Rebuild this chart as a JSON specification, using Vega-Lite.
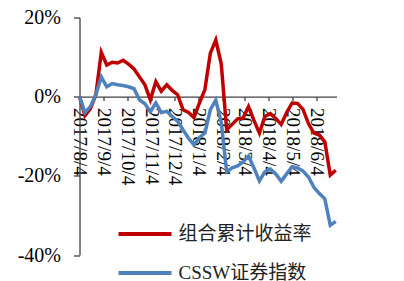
{
  "$schema": "https://vega.github.io/schema/vega-lite/v6.json",
  "width": 257,
  "height": 237.5,
  "autosize": {"type": "none"},
  "padding": {"left": 79.5, "top": 17.5, "right": 67.5, "bottom": 26},
  "background": "white",
  "config": {
    "view": {"stroke": null},
    "font": "Liberation Serif",
    "axis": {"grid": false, "domainColor": "#404040", "tickColor": "#404040", "domainWidth": 1.3, "tickWidth": 1.3, "labelColor": "#000000", "labelFont": "Liberation Serif", "labelFontSize": 19}
  },
  "data": {
    "values": [
      {"date": "2017-08-04", "s": "组合累计收益率", "v": 0},
      {"date": "2017-08-11", "s": "组合累计收益率", "v": -4.8},
      {"date": "2017-08-18", "s": "组合累计收益率", "v": -3.0},
      {"date": "2017-08-25", "s": "组合累计收益率", "v": 0.5},
      {"date": "2017-09-01", "s": "组合累计收益率", "v": 11.2},
      {"date": "2017-09-08", "s": "组合累计收益率", "v": 8.0},
      {"date": "2017-09-15", "s": "组合累计收益率", "v": 8.7},
      {"date": "2017-09-22", "s": "组合累计收益率", "v": 8.5},
      {"date": "2017-09-29", "s": "组合累计收益率", "v": 9.2},
      {"date": "2017-10-06", "s": "组合累计收益率", "v": 8.2},
      {"date": "2017-10-13", "s": "组合累计收益率", "v": 7.0},
      {"date": "2017-10-20", "s": "组合累计收益率", "v": 5.0},
      {"date": "2017-10-27", "s": "组合累计收益率", "v": 3.0},
      {"date": "2017-11-03", "s": "组合累计收益率", "v": -0.8},
      {"date": "2017-11-10", "s": "组合累计收益率", "v": 3.8},
      {"date": "2017-11-17", "s": "组合累计收益率", "v": 1.4},
      {"date": "2017-11-24", "s": "组合累计收益率", "v": 3.0},
      {"date": "2017-12-01", "s": "组合累计收益率", "v": 1.6},
      {"date": "2017-12-08", "s": "组合累计收益率", "v": 0.5},
      {"date": "2017-12-15", "s": "组合累计收益率", "v": -3.3},
      {"date": "2017-12-22", "s": "组合累计收益率", "v": -4.0},
      {"date": "2017-12-29", "s": "组合累计收益率", "v": -5.3},
      {"date": "2018-01-05", "s": "组合累计收益率", "v": -1.6},
      {"date": "2018-01-12", "s": "组合累计收益率", "v": 1.8},
      {"date": "2018-01-19", "s": "组合累计收益率", "v": 11.0},
      {"date": "2018-01-26", "s": "组合累计收益率", "v": 14.3},
      {"date": "2018-02-02", "s": "组合累计收益率", "v": 8.3},
      {"date": "2018-02-09", "s": "组合累计收益率", "v": -8.4},
      {"date": "2018-02-16", "s": "组合累计收益率", "v": -7.0},
      {"date": "2018-02-23", "s": "组合累计收益率", "v": -5.6},
      {"date": "2018-03-02", "s": "组合累计收益率", "v": -5.4},
      {"date": "2018-03-09", "s": "组合累计收益率", "v": -2.5},
      {"date": "2018-03-16", "s": "组合累计收益率", "v": -6.0},
      {"date": "2018-03-23", "s": "组合累计收益率", "v": -9.2},
      {"date": "2018-03-30", "s": "组合累计收益率", "v": -5.0},
      {"date": "2018-04-06", "s": "组合累计收益率", "v": -4.3},
      {"date": "2018-04-13", "s": "组合累计收益率", "v": -5.5},
      {"date": "2018-04-20", "s": "组合累计收益率", "v": -7.0},
      {"date": "2018-04-27", "s": "组合累计收益率", "v": -4.0},
      {"date": "2018-05-04", "s": "组合累计收益率", "v": -1.6},
      {"date": "2018-05-11", "s": "组合累计收益率", "v": -1.7},
      {"date": "2018-05-18", "s": "组合累计收益率", "v": -3.2},
      {"date": "2018-05-25", "s": "组合累计收益率", "v": -6.8},
      {"date": "2018-06-01", "s": "组合累计收益率", "v": -9.2},
      {"date": "2018-06-08", "s": "组合累计收益率", "v": -9.7},
      {"date": "2018-06-15", "s": "组合累计收益率", "v": -11.4},
      {"date": "2018-06-22", "s": "组合累计收益率", "v": -19.8},
      {"date": "2018-06-29", "s": "组合累计收益率", "v": -18.6},
      {"date": "2017-08-04", "s": "CSSW证券指数", "v": 0},
      {"date": "2017-08-11", "s": "CSSW证券指数", "v": -4.0},
      {"date": "2017-08-18", "s": "CSSW证券指数", "v": -2.5},
      {"date": "2017-08-25", "s": "CSSW证券指数", "v": 0.5},
      {"date": "2017-09-01", "s": "CSSW证券指数", "v": 5.0},
      {"date": "2017-09-08", "s": "CSSW证券指数", "v": 2.5},
      {"date": "2017-09-15", "s": "CSSW证券指数", "v": 3.3},
      {"date": "2017-09-22", "s": "CSSW证券指数", "v": 3.0},
      {"date": "2017-09-29", "s": "CSSW证券指数", "v": 2.8},
      {"date": "2017-10-06", "s": "CSSW证券指数", "v": 2.5},
      {"date": "2017-10-13", "s": "CSSW证券指数", "v": 2.0},
      {"date": "2017-10-20", "s": "CSSW证券指数", "v": -0.8},
      {"date": "2017-10-27", "s": "CSSW证券指数", "v": -1.8},
      {"date": "2017-11-03", "s": "CSSW证券指数", "v": -3.8},
      {"date": "2017-11-10", "s": "CSSW证券指数", "v": -1.6},
      {"date": "2017-11-17", "s": "CSSW证券指数", "v": -4.0},
      {"date": "2017-11-24", "s": "CSSW证券指数", "v": -3.7},
      {"date": "2017-12-01", "s": "CSSW证券指数", "v": -5.0},
      {"date": "2017-12-08", "s": "CSSW证券指数", "v": -6.2},
      {"date": "2017-12-15", "s": "CSSW证券指数", "v": -8.4},
      {"date": "2017-12-22", "s": "CSSW证券指数", "v": -10.5},
      {"date": "2017-12-29", "s": "CSSW证券指数", "v": -12.2},
      {"date": "2018-01-05", "s": "CSSW证券指数", "v": -10.3},
      {"date": "2018-01-12", "s": "CSSW证券指数", "v": -9.2},
      {"date": "2018-01-19", "s": "CSSW证券指数", "v": -3.3},
      {"date": "2018-01-26", "s": "CSSW证券指数", "v": -0.9},
      {"date": "2018-02-02", "s": "CSSW证券指数", "v": -6.5},
      {"date": "2018-02-09", "s": "CSSW证券指数", "v": -19.0},
      {"date": "2018-02-16", "s": "CSSW证券指数", "v": -18.0},
      {"date": "2018-02-23", "s": "CSSW证券指数", "v": -17.5},
      {"date": "2018-03-02", "s": "CSSW证券指数", "v": -16.5},
      {"date": "2018-03-09", "s": "CSSW证券指数", "v": -15.0},
      {"date": "2018-03-16", "s": "CSSW证券指数", "v": -18.0},
      {"date": "2018-03-23", "s": "CSSW证券指数", "v": -21.3},
      {"date": "2018-03-30", "s": "CSSW证券指数", "v": -19.0},
      {"date": "2018-04-06", "s": "CSSW证券指数", "v": -18.3},
      {"date": "2018-04-13", "s": "CSSW证券指数", "v": -19.5},
      {"date": "2018-04-20", "s": "CSSW证券指数", "v": -21.4},
      {"date": "2018-04-27", "s": "CSSW证券指数", "v": -19.5},
      {"date": "2018-05-04", "s": "CSSW证券指数", "v": -17.7},
      {"date": "2018-05-11", "s": "CSSW证券指数", "v": -18.0},
      {"date": "2018-05-18", "s": "CSSW证券指数", "v": -18.8},
      {"date": "2018-05-25", "s": "CSSW证券指数", "v": -20.3},
      {"date": "2018-06-01", "s": "CSSW证券指数", "v": -22.9},
      {"date": "2018-06-08", "s": "CSSW证券指数", "v": -24.5},
      {"date": "2018-06-15", "s": "CSSW证券指数", "v": -25.8},
      {"date": "2018-06-22", "s": "CSSW证券指数", "v": -32.5},
      {"date": "2018-06-29", "s": "CSSW证券指数", "v": -31.5}
    ]
  },
  "mark": {"type": "line", "strokeWidth": 3.5, "strokeJoin": "miter", "clip": false},
  "encoding": {
    "x": {
      "field": "date",
      "type": "temporal",
      "scale": {"type": "utc", "domain": [{"year": 2017, "month": 8, "date": 4, "utc": true}, {"year": 2018, "month": 6, "date": 30, "utc": true}]},
      "axis": {
        "title": null,
        "orient": "bottom",
        "offset": -158.4,
        "values": [
          {"year": 2017, "month": 8, "date": 4, "utc": true},
          {"year": 2017, "month": 9, "date": 4, "utc": true},
          {"year": 2017, "month": 10, "date": 4, "utc": true},
          {"year": 2017, "month": 11, "date": 4, "utc": true},
          {"year": 2017, "month": 12, "date": 4, "utc": true},
          {"year": 2018, "month": 1, "date": 4, "utc": true},
          {"year": 2018, "month": 2, "date": 4, "utc": true},
          {"year": 2018, "month": 3, "date": 4, "utc": true},
          {"year": 2018, "month": 4, "date": 4, "utc": true},
          {"year": 2018, "month": 5, "date": 4, "utc": true},
          {"year": 2018, "month": 6, "date": 4, "utc": true}
        ],
        "labelExpr": "utcFormat(datum.value, '%Y/%-m/%-d')",
        "labelAngle": 90,
        "labelAlign": "left",
        "labelBaseline": "middle",
        "tickSize": 4,
        "labelPadding": 7,
        "labelOverlap": false,
        "labelFlush": false
      }
    },
    "y": {
      "field": "v",
      "type": "quantitative",
      "scale": {"domain": [-40, 20], "nice": false, "zero": false},
      "axis": {
        "title": null,
        "values": [-40, -20, 0, 20],
        "labelExpr": "datum.value + '%'",
        "tickSize": 6,
        "labelPadding": 13,
        "labelFontSize": 20
      }
    },
    "color": {
      "field": "s",
      "type": "nominal",
      "sort": ["组合累计收益率", "CSSW证券指数"],
      "scale": {"domain": ["组合累计收益率", "CSSW证券指数"], "range": ["#C00000", "#4F81BD"]},
      "legend": {
        "title": null,
        "orient": "none",
        "legendX": 37,
        "legendY": 188,
        "symbolType": "stroke",
        "symbolSize": 2809,
        "symbolStrokeWidth": 4,
        "rowPadding": -22,
        "labelOffset": 5,
        "labelFont": "Liberation Serif, Noto Sans CJK SC",
        "labelFontSize": 19,
        "labelColor": "#222222",
        "labelLimit": 0
      }
    }
  }
}
